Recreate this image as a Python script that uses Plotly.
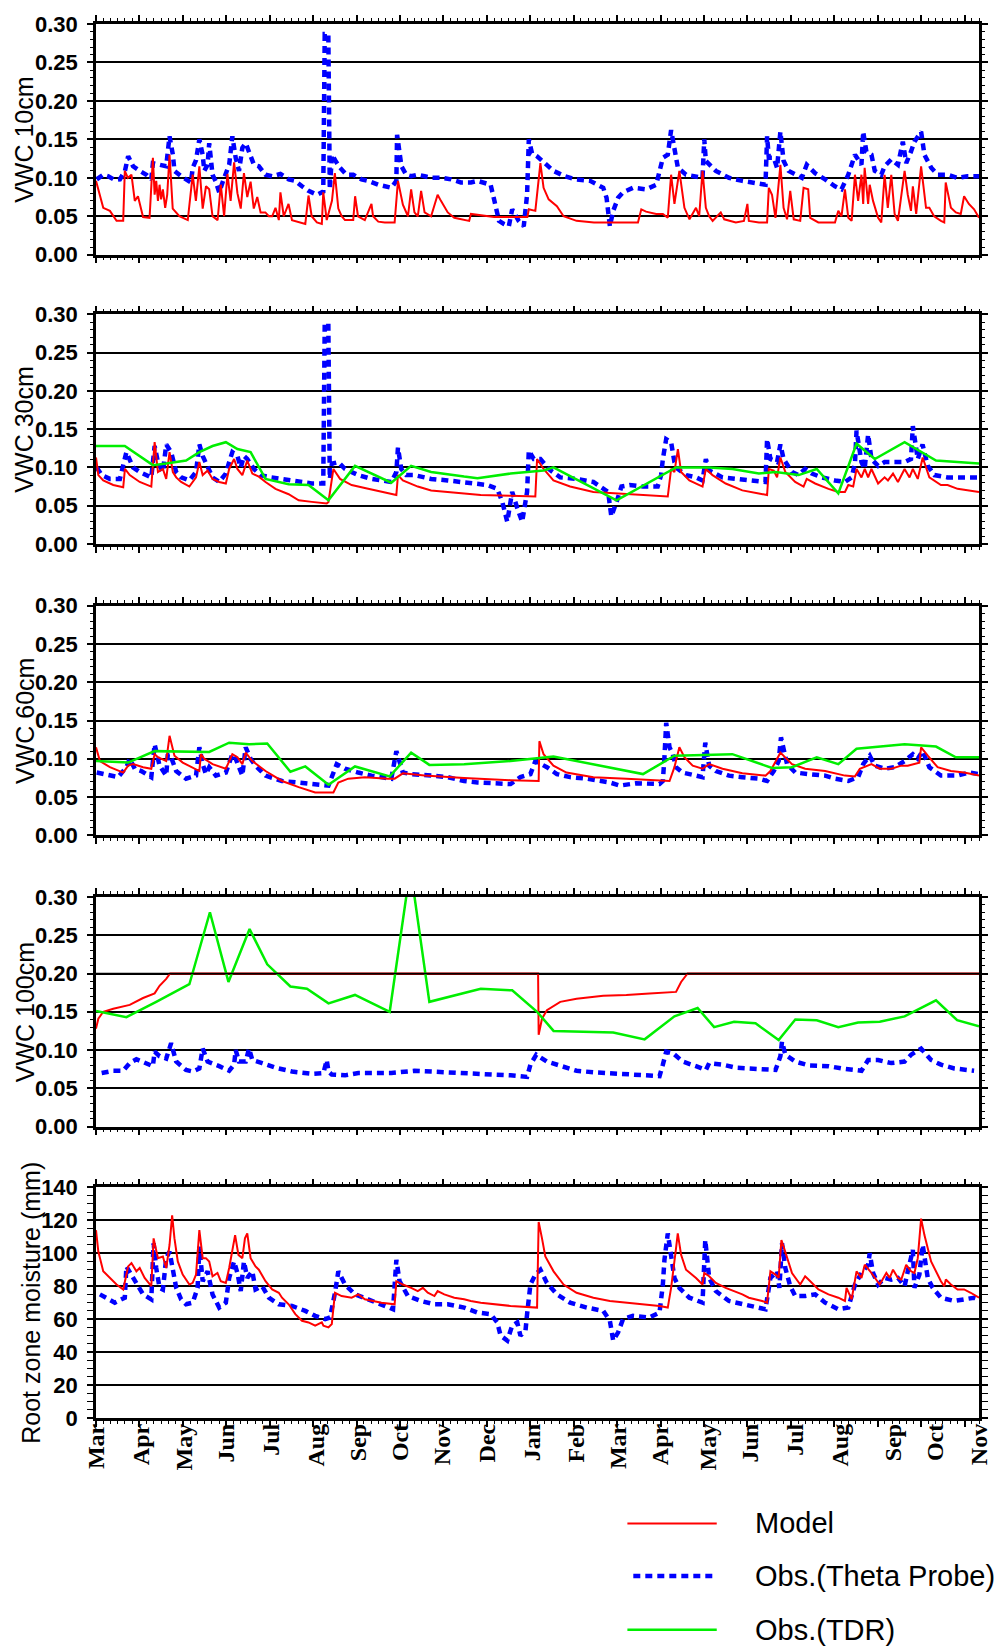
import plotly.graph_objects as go

# Days counted from 1 March of the first year; the axis runs to 1 November of the next year.
X_RANGE = [0, 610]
MONTH_NAMES = ["Mar", "Apr", "May", "Jun", "Jul", "Aug", "Sep", "Oct", "Nov", "Dec",
               "Jan", "Feb", "Mar", "Apr", "May", "Jun", "Jul", "Aug", "Sep", "Oct", "Nov"]
MONTH_DAYS = [0, 31, 61, 90, 121, 152, 181, 210, 239, 270,
              301, 332, 361, 390, 423, 452, 483, 514, 551, 580, 610]

# ---------------- 10 cm (day, volumetric water content) ----------------
MODEL_10CM = [(0, 0.096), (5, 0.061), (9.6, 0.057), (14.2, 0.044), (18.8, 0.044), (19.9, 0.109), (22, 0.100),
              (24.5, 0.104), (26.8, 0.070), (29, 0.076), (32.5, 0.049), (37, 0.048), (39.3, 0.126), (40.5, 0.078),
              (41.6, 0.096), (42.8, 0.070), (43.9, 0.091), (45, 0.072), (46.2, 0.085), (47.8, 0.061), (49.2, 0.078),
              (50.8, 0.130), (53, 0.060), (57.6, 0.050), (63.4, 0.045), (66.8, 0.104), (69, 0.070), (71.4, 0.115),
              (73.7, 0.060), (76, 0.089), (78.2, 0.085), (80.5, 0.050), (84, 0.045), (86.2, 0.091), (88.5, 0.050),
              (90.8, 0.105), (93, 0.070), (95.4, 0.120), (97.7, 0.080), (100, 0.060), (102.2, 0.106), (104.5, 0.075),
              (106.8, 0.095), (109, 0.060), (111.4, 0.075), (113.7, 0.055), (117, 0.055), (119.4, 0.050),
              (121.7, 0.050), (124, 0.061), (126.3, 0.045), (127.4, 0.081), (129.7, 0.050), (133, 0.066),
              (135.4, 0.045), (140, 0.042), (144.6, 0.040), (146.8, 0.077), (149, 0.050), (152.6, 0.042),
              (156, 0.040), (157, 0.081), (159.4, 0.045), (163, 0.070), (165, 0.106), (167.4, 0.060), (169.7, 0.050),
              (172, 0.045), (177.7, 0.045), (179, 0.076), (181, 0.050), (185.7, 0.045), (190.3, 0.066),
              (191.4, 0.050), (195, 0.043), (199.5, 0.042), (206.3, 0.042), (208.6, 0.096), (212, 0.065),
              (215.5, 0.050), (217.7, 0.085), (220, 0.055), (222.3, 0.050), (224.6, 0.083), (227, 0.055),
              (231.5, 0.050), (236, 0.078), (238.3, 0.070), (243, 0.055), (247.5, 0.048), (254.3, 0.045),
              (257.8, 0.044), (259, 0.053), (263.5, 0.052), (275, 0.049), (298, 0.049), (299, 0.059),
              (303.5, 0.057), (307, 0.119), (309.2, 0.087), (312.7, 0.072), (318.4, 0.063), (323, 0.050),
              (332, 0.044), (344, 0.042), (374.4, 0.042), (376.7, 0.059), (380, 0.056), (387, 0.053),
              (391.6, 0.053), (395, 0.048), (397.3, 0.104), (399.6, 0.066), (403, 0.109), (406.5, 0.061),
              (410, 0.046), (414.5, 0.061), (416.7, 0.050), (419, 0.109), (421.3, 0.061), (423.6, 0.050),
              (426, 0.044), (431.6, 0.055), (434, 0.046), (442, 0.042), (447.6, 0.044), (450, 0.066), (451, 0.044),
              (458, 0.042), (463.6, 0.042), (464.8, 0.087), (467, 0.078), (469.4, 0.048), (472.8, 0.117),
              (475, 0.061), (477.4, 0.046), (479.6, 0.083), (482, 0.046), (486.5, 0.044), (488.8, 0.087),
              (492, 0.085), (493.4, 0.048), (499, 0.042), (510.5, 0.042), (512.8, 0.057), (515, 0.050),
              (517.4, 0.085), (519.7, 0.048), (522, 0.044), (524.3, 0.104), (526.5, 0.070), (528.8, 0.104),
              (530, 0.066), (531, 0.113), (533.4, 0.066), (534.5, 0.091), (536.8, 0.070), (540.3, 0.048),
              (542.5, 0.042), (544.8, 0.104), (547, 0.061), (549.4, 0.104), (551.7, 0.053), (554, 0.044),
              (558.6, 0.109), (560.8, 0.078), (563, 0.057), (564.3, 0.089), (566.6, 0.053), (570, 0.115),
              (573.4, 0.061), (575.7, 0.061), (579, 0.050), (583.7, 0.044), (586, 0.042), (587, 0.094),
              (590.6, 0.061), (594, 0.055), (597.4, 0.053), (599.7, 0.076), (603, 0.066), (606.6, 0.059),
              (610, 0.048)]

THETA_10CM = [(0.5, 0.098), (5, 0.104), (8.5, 0.102), (13, 0.097), (16.5, 0.098), (20, 0.109), (22.2, 0.128),
              (25.6, 0.115), (30.2, 0.109), (34.8, 0.104), (38.2, 0.098), (39.3, 0.119), (43.9, 0.117),
              (48.5, 0.115), (49.6, 0.134), (50.8, 0.154), (53.1, 0.130), (54.2, 0.109), (58.8, 0.102),
              (62.2, 0.098), (65.6, 0.094), (66.8, 0.113), (69.1, 0.123), (71.4, 0.150), (73.7, 0.130),
              (74.8, 0.109), (77.1, 0.117), (78.2, 0.145), (80.5, 0.104), (82.8, 0.095), (85.1, 0.081),
              (87.4, 0.094), (89.7, 0.106), (92, 0.117), (94.2, 0.154), (96.5, 0.126), (98.8, 0.109),
              (101.1, 0.139), (103.4, 0.145), (106.8, 0.130), (109.1, 0.117), (112.5, 0.115), (117.1, 0.104),
              (121.7, 0.102), (127.4, 0.105), (133.1, 0.098), (137.7, 0.096), (142.3, 0.089), (146.8, 0.083),
              (152.6, 0.078), (157, 0.082), (158, 0.287), (160.5, 0.287), (161.5, 0.085), (163, 0.130),
              (165.5, 0.122), (168.6, 0.113), (173, 0.104), (177.7, 0.104), (183.4, 0.098), (188, 0.096),
              (195, 0.091), (204, 0.087), (207.5, 0.096), (208, 0.156), (211, 0.115), (214.3, 0.104),
              (217.7, 0.102), (222.3, 0.104), (227, 0.102), (231.5, 0.100), (238.3, 0.100), (245.2, 0.098),
              (252, 0.094), (259, 0.094), (263.5, 0.096), (272.6, 0.091), (275, 0.072), (278.4, 0.044),
              (281.8, 0.040), (285.2, 0.037), (287.5, 0.059), (289.8, 0.050), (292, 0.044), (295.5, 0.037),
              (297.8, 0.078), (299, 0.150), (301.2, 0.132), (304.7, 0.128), (308, 0.122), (316, 0.109),
              (324, 0.102), (331, 0.098), (341.3, 0.096), (350.4, 0.087), (352.7, 0.074), (355, 0.037),
              (357.3, 0.057), (360.7, 0.074), (364, 0.081), (371, 0.087), (380, 0.085), (387, 0.091),
              (391.6, 0.126), (395, 0.130), (397.3, 0.162), (399.6, 0.139), (402, 0.113), (407.6, 0.104),
              (414.5, 0.102), (419, 0.100), (420.2, 0.150), (421.3, 0.122), (428.2, 0.109), (437.3, 0.100),
              (446.5, 0.096), (453.3, 0.094), (462.5, 0.091), (463.6, 0.154), (464.8, 0.126), (468.2, 0.126),
              (470.5, 0.113), (472.8, 0.160), (475, 0.122), (478.5, 0.109), (487.6, 0.100), (491, 0.117),
              (496.8, 0.106), (503.7, 0.098), (510.5, 0.089), (515, 0.085), (519.7, 0.104), (524.3, 0.130),
              (528.8, 0.117), (530, 0.160), (532.2, 0.134), (535.7, 0.130), (538, 0.109), (542.5, 0.104),
              (544.8, 0.115), (549.4, 0.124), (554, 0.117), (557.4, 0.147), (559.7, 0.119), (563, 0.134),
              (565.4, 0.147), (570, 0.160), (572.3, 0.130), (577, 0.113), (581.4, 0.104), (588.3, 0.104),
              (595, 0.100), (602, 0.102), (610, 0.102)]

# ---------------- 30 cm ----------------
MODEL_30CM = [(0, 0.113), (1.6, 0.090), (5, 0.083), (11.9, 0.077), (18.8, 0.074), (20, 0.098), (23.3, 0.090),
              (30.2, 0.081), (38.2, 0.075), (39.3, 0.107), (40.5, 0.133), (42.8, 0.094), (46.2, 0.098),
              (48.5, 0.085), (50.8, 0.120), (53.1, 0.094), (55.4, 0.087), (58.8, 0.081), (64.5, 0.075),
              (69.1, 0.087), (71.4, 0.107), (73.7, 0.090), (77.1, 0.096), (80.5, 0.085), (85.1, 0.081),
              (89.7, 0.079), (92, 0.098), (95.4, 0.111), (97.7, 0.098), (101.1, 0.090), (104.5, 0.109),
              (108, 0.092), (112.5, 0.088), (117.1, 0.081), (124, 0.072), (133.1, 0.065), (140, 0.057),
              (149.1, 0.055), (159.4, 0.053), (160.6, 0.055), (164, 0.098), (168.6, 0.085), (176.6, 0.077),
              (185.7, 0.073), (197.2, 0.068), (207.5, 0.064), (208.6, 0.090), (212, 0.083), (222.3, 0.075),
              (231.5, 0.070), (242.9, 0.068), (254.3, 0.066), (265.8, 0.064), (286.4, 0.063), (303.5, 0.062),
              (304.7, 0.111), (309.2, 0.098), (316, 0.083), (327.5, 0.075), (343.6, 0.068), (359.6, 0.066),
              (377.9, 0.064), (395, 0.062), (397.3, 0.098), (399.6, 0.094), (402, 0.124), (404.2, 0.094),
              (409.9, 0.083), (419, 0.075), (421.3, 0.098), (425.9, 0.090), (435, 0.079), (446.5, 0.070),
              (457.9, 0.066), (463.6, 0.064), (464.8, 0.098), (468.2, 0.096), (470.5, 0.087), (472.8, 0.113),
              (476.2, 0.094), (483, 0.081), (488.8, 0.075), (491, 0.085), (496.8, 0.079), (506, 0.072),
              (512.8, 0.068), (517.4, 0.068), (519.7, 0.077), (523.1, 0.075), (525.4, 0.098), (528.8, 0.087),
              (531.1, 0.098), (533.4, 0.087), (535.7, 0.098), (540.3, 0.079), (544.8, 0.087), (547.1, 0.083),
              (550.6, 0.092), (554, 0.081), (558.6, 0.098), (562, 0.087), (564.3, 0.098), (567.7, 0.085),
              (571.1, 0.113), (575.7, 0.087), (583.7, 0.077), (588.3, 0.077), (595.2, 0.072), (610, 0.068)]

THETA_30CM = [(0.5, 0.100), (3.9, 0.090), (9.6, 0.085), (16.5, 0.085), (21, 0.120), (25.6, 0.100), (30.2, 0.094),
              (34.8, 0.090), (38.2, 0.087), (40.5, 0.128), (42.8, 0.107), (46.2, 0.094), (48.5, 0.130),
              (51.9, 0.120), (55.4, 0.094), (58.8, 0.087), (64.5, 0.083), (69.1, 0.094), (71.4, 0.130),
              (73.7, 0.115), (77.1, 0.100), (80.5, 0.087), (85.1, 0.081), (89.7, 0.092), (92, 0.107),
              (94.2, 0.120), (97.7, 0.115), (100, 0.100), (102.2, 0.115), (104.5, 0.111), (109.1, 0.098),
              (113.7, 0.090), (120.5, 0.087), (128.5, 0.085), (135.4, 0.083), (141.1, 0.081), (149.1, 0.079),
              (157, 0.079), (158, 0.288), (160.5, 0.288), (161.5, 0.085), (163, 0.105), (167.4, 0.107),
              (172, 0.098), (181.2, 0.090), (190.3, 0.085), (197.2, 0.083), (204, 0.081), (207.5, 0.094),
              (208.6, 0.126), (210.9, 0.098), (214.3, 0.090), (220, 0.090), (231.5, 0.085), (242.9, 0.083),
              (254.3, 0.081), (263.5, 0.079), (270.4, 0.077), (277.2, 0.072), (280.7, 0.055), (284.1, 0.029),
              (287.5, 0.068), (291, 0.047), (294.4, 0.029), (297.8, 0.068), (299, 0.122), (302.4, 0.111),
              (307, 0.111), (312.7, 0.098), (320.7, 0.087), (332, 0.085), (343.6, 0.081), (353.8, 0.068),
              (356, 0.036), (359.6, 0.055), (363, 0.075), (368.7, 0.077), (377.9, 0.075), (388, 0.075),
              (390.4, 0.090), (391.6, 0.111), (393.9, 0.137), (397.3, 0.133), (399.6, 0.107), (402, 0.098),
              (407.6, 0.090), (414.5, 0.087), (419, 0.083), (421.3, 0.111), (423.6, 0.096), (432.8, 0.087),
              (444.2, 0.085), (455.6, 0.083), (462.5, 0.081), (463.6, 0.137), (465.9, 0.111), (470.5, 0.107),
              (472.8, 0.130), (475, 0.111), (480.8, 0.094), (485.4, 0.090), (489.9, 0.098), (494.5, 0.092),
              (501.4, 0.087), (510.5, 0.083), (517.4, 0.081), (522, 0.087), (524.3, 0.105), (525.4, 0.148),
              (528.8, 0.107), (531, 0.098), (533.4, 0.143), (535.7, 0.111), (540.3, 0.102), (544.8, 0.107),
              (551.7, 0.107), (558.6, 0.107), (563, 0.111), (564.3, 0.154), (567.7, 0.111), (571, 0.130),
              (574.6, 0.102), (579.2, 0.090), (588.3, 0.087), (597.4, 0.087), (610, 0.087)]

TDR_30CM = [(0, 0.128), (19.9, 0.128), (39.3, 0.103), (48.5, 0.105), (62.2, 0.109), (71.4, 0.120), (80.5, 0.128),
            (89.7, 0.133), (97.7, 0.124), (106.8, 0.120), (117.1, 0.085), (133.1, 0.078), (146.8, 0.077),
            (160.6, 0.057), (178.9, 0.102), (204, 0.080), (217.7, 0.102), (231.5, 0.094), (254.3, 0.088),
            (263.5, 0.086), (286.4, 0.092), (309.2, 0.096), (316, 0.100), (359.6, 0.057), (400.7, 0.100),
            (423.6, 0.100), (439.6, 0.098), (457.9, 0.092), (469.4, 0.094), (485.4, 0.090), (497.9, 0.098),
            (512.8, 0.066), (525.4, 0.131), (538, 0.111), (558.6, 0.133), (580.3, 0.109), (610, 0.105)]

# ---------------- 60 cm ----------------
MODEL_60CM = [(0, 0.115), (2.7, 0.097), (9.6, 0.089), (18.8, 0.082), (22.2, 0.091), (25.6, 0.093), (32.5, 0.089),
              (38.2, 0.087), (40.5, 0.106), (42.8, 0.102), (48.5, 0.097), (50.8, 0.130), (54.2, 0.104),
              (59.9, 0.095), (71.4, 0.084), (72.5, 0.106), (74.8, 0.100), (80.5, 0.093), (89.7, 0.087),
              (94.2, 0.106), (97.7, 0.102), (101.1, 0.093), (103.4, 0.108), (108, 0.097), (117.1, 0.084),
              (128.5, 0.071), (140, 0.063), (151.4, 0.056), (164, 0.056), (167.4, 0.069), (174.3, 0.074),
              (185.7, 0.076), (201.7, 0.074), (206.3, 0.074), (212, 0.081), (226.9, 0.078), (254.3, 0.075),
              (263.5, 0.074), (286.4, 0.072), (305.8, 0.071), (306.3, 0.123), (309.2, 0.106), (316, 0.091),
              (325, 0.082), (343.6, 0.076), (366.4, 0.074), (389.3, 0.071), (396.2, 0.071), (399.6, 0.089),
              (403, 0.115), (406.5, 0.102), (412.2, 0.091), (419, 0.087), (423.6, 0.093), (432.8, 0.087),
              (446.5, 0.081), (462.5, 0.078), (465.9, 0.084), (472.8, 0.108), (475, 0.104), (480.8, 0.093),
              (489.9, 0.087), (503.7, 0.084), (517.4, 0.078), (524.3, 0.077), (527.7, 0.087), (535.7, 0.093),
              (541.4, 0.087), (549.4, 0.087), (556.3, 0.091), (560.8, 0.091), (568.8, 0.095), (570, 0.115),
              (574.6, 0.104), (581.4, 0.089), (590.6, 0.084), (599.7, 0.082), (610, 0.078)]

THETA_60CM = [(0.5, 0.082), (5, 0.080), (15.3, 0.076), (21, 0.089), (23.3, 0.100), (26.8, 0.087), (31.3, 0.084),
              (38.2, 0.076), (40.5, 0.119), (43.9, 0.091), (48.5, 0.078), (49.6, 0.106), (51.9, 0.102),
              (55.4, 0.084), (62.2, 0.074), (69.1, 0.078), (71.4, 0.115), (73.7, 0.093), (75.9, 0.080),
              (78.2, 0.089), (82.8, 0.078), (89.7, 0.082), (94.2, 0.106), (96.5, 0.100), (101.1, 0.078),
              (103.4, 0.115), (106.8, 0.100), (110.2, 0.091), (117.1, 0.078), (128.5, 0.071), (140, 0.069),
              (151.4, 0.067), (160.6, 0.065), (166.3, 0.093), (172, 0.087), (181.2, 0.082), (190.3, 0.078),
              (204, 0.074), (207.5, 0.110), (212, 0.082), (217.7, 0.080), (231.5, 0.078), (242.9, 0.076),
              (254.3, 0.071), (263.5, 0.069), (274.9, 0.068), (286.4, 0.067), (293.2, 0.076), (300.1, 0.080),
              (303.5, 0.097), (308.1, 0.093), (311.5, 0.089), (318.4, 0.080), (327.5, 0.076), (339, 0.074),
              (355, 0.069), (361.9, 0.065), (373, 0.068), (389.3, 0.067), (391.6, 0.071), (392.7, 0.102),
              (393.9, 0.147), (396.2, 0.115), (398.5, 0.106), (400.7, 0.089), (405.3, 0.082), (414.5, 0.078),
              (419, 0.076), (420.9, 0.121), (423.6, 0.091), (428.2, 0.084), (437.3, 0.078), (446.5, 0.076),
              (457.9, 0.074), (463.6, 0.071), (468.2, 0.084), (471.6, 0.097), (473.2, 0.128), (477.4, 0.093),
              (483.1, 0.082), (492.2, 0.080), (503.7, 0.078), (510.5, 0.074), (519.7, 0.071), (526.5, 0.076),
              (530, 0.093), (534.5, 0.104), (538, 0.091), (544.8, 0.087), (551.7, 0.089), (558.6, 0.097),
              (564.3, 0.106), (567.7, 0.100), (571.1, 0.110), (575.7, 0.089), (583.7, 0.078), (595.2, 0.078),
              (603.2, 0.082), (610, 0.080)]

TDR_60CM = [(0, 0.097), (22.2, 0.095), (40.5, 0.110), (59.9, 0.109), (78.2, 0.109), (92, 0.121), (105.7, 0.119),
            (118.3, 0.120), (134.3, 0.083), (144.6, 0.090), (160.6, 0.066), (178.9, 0.090), (202.9, 0.077),
            (217.7, 0.108), (230.3, 0.092), (254.3, 0.093), (263.5, 0.094), (286.4, 0.097), (316, 0.103),
            (377.9, 0.080), (399.6, 0.104), (439.6, 0.106), (467, 0.088), (480.8, 0.089), (497.9, 0.102),
            (512.8, 0.093), (525.4, 0.113), (558.6, 0.119), (580.3, 0.116), (594, 0.102), (610, 0.102)]

# ---------------- 100 cm ----------------
MODEL_100CM = [(0, 0.128), (1.6, 0.141), (5, 0.150), (11.9, 0.154), (23.3, 0.159), (32.5, 0.168), (40.5, 0.174),
               (43.9, 0.184), (48.5, 0.193), (51.2, 0.200), (305.4, 0.200), (305.8, 0.120), (308.1, 0.141),
               (311.5, 0.152), (320.7, 0.163), (332, 0.167), (350.4, 0.171), (366.4, 0.172), (382.4, 0.174),
               (400.7, 0.176), (404.2, 0.189), (408.7, 0.200), (610, 0.200)]

THETA_100CM = [(3.9, 0.070), (11.9, 0.073), (18.8, 0.073), (23.3, 0.083), (27.9, 0.088), (34.8, 0.082),
               (39.3, 0.079), (40.5, 0.098), (43.9, 0.092), (48.5, 0.089), (51.9, 0.109), (55.4, 0.085),
               (62.2, 0.074), (66.8, 0.072), (71.4, 0.076), (73.7, 0.102), (77.1, 0.085), (85.1, 0.079),
               (92, 0.073), (95.4, 0.081), (96.5, 0.100), (98.8, 0.085), (103.4, 0.085), (105.7, 0.102),
               (108, 0.087), (114.8, 0.083), (124, 0.077), (135.4, 0.072), (149.1, 0.069), (157.1, 0.070),
               (159.4, 0.087), (160.6, 0.072), (162.9, 0.068), (172, 0.067), (181.2, 0.070), (204, 0.070),
               (220, 0.073), (231.5, 0.072), (247.5, 0.070), (263.5, 0.069), (274.9, 0.068), (286.4, 0.067),
               (297.8, 0.065), (300.1, 0.081), (304.2, 0.094), (311.5, 0.085), (323, 0.079), (332, 0.073),
               (343.6, 0.071), (359.6, 0.069), (377.9, 0.068), (389.3, 0.066), (391.6, 0.081), (393.9, 0.098),
               (398.5, 0.096), (405.3, 0.085), (414.5, 0.079), (421.3, 0.074), (423.6, 0.083), (432.8, 0.081),
               (441.9, 0.077), (457.9, 0.076), (469.4, 0.074), (472.8, 0.092), (473.9, 0.111), (476.2, 0.094),
               (483.1, 0.085), (492.2, 0.080), (506, 0.079), (515.1, 0.076), (528.8, 0.073), (533.4, 0.087),
               (540.3, 0.087), (549.4, 0.083), (558.6, 0.085), (563.1, 0.094), (570, 0.102), (576.9, 0.087),
               (583.7, 0.081), (592.9, 0.076), (606.6, 0.073)]

TDR_100CM = [(0, 0.151), (21, 0.143), (41.6, 0.163), (64.5, 0.186), (78.7, 0.280), (91.5, 0.189), (106.1, 0.258),
             (118.3, 0.212), (134.3, 0.183), (145.7, 0.180), (160.6, 0.161), (178.9, 0.172), (202.9, 0.150),
             (217.2, 0.338), (230.3, 0.163), (249.8, 0.172), (265.8, 0.180), (287.5, 0.178), (304.7, 0.150),
             (316.1, 0.125), (357.3, 0.123), (379, 0.114), (399.6, 0.144), (415.6, 0.155), (427, 0.130),
             (440.8, 0.137), (455.6, 0.135), (471.6, 0.113), (483.1, 0.140), (497.9, 0.139), (512.8, 0.130),
             (526.5, 0.136), (541.4, 0.137), (558.6, 0.144), (580.3, 0.165), (594.9, 0.139), (610, 0.131)]

# ---------------- root zone storage (mm) ----------------
MODEL_ROOT = [(0, 114), (1.6, 101), (5, 89), (9.6, 85), (14.2, 81), (18.8, 78), (19.9, 83), (22.2, 92), (24.5, 94),
              (27.9, 89), (30.2, 91), (33.6, 85), (38.2, 80), (39.8, 109), (42.8, 97), (46.2, 98), (48.5, 91),
              (50.8, 105), (52.6, 123), (54.2, 109), (56.5, 95), (59.9, 87), (64.5, 81), (66.8, 82), (69.1, 87),
              (71.4, 114), (73.7, 97), (75.9, 97), (78.2, 95), (80.5, 86), (83.9, 88), (86.2, 83), (89.7, 82),
              (92, 91), (96.1, 111), (98.4, 99), (101.1, 97), (102.9, 109), (104.5, 112), (106.8, 97), (110.2, 92),
              (112.5, 90), (117.1, 83), (121.7, 78), (126.3, 76), (128.5, 73), (133.1, 69), (137.7, 63),
              (142.3, 59), (146.8, 58), (151.4, 56), (156, 58), (157.1, 56), (160.6, 55), (162.9, 57), (165.1, 76),
              (169.7, 74), (176.6, 73), (181.2, 75), (185.7, 72), (197.2, 70), (206.3, 69), (207.5, 83), (212, 81),
              (217.7, 79), (222.3, 77), (225.8, 79), (229.2, 76), (233.8, 74), (236, 77), (240.6, 75), (247.5, 73),
              (254.3, 72), (258.9, 71), (265.8, 70), (286.4, 68), (304.7, 67), (305.8, 119), (308.1, 109),
              (310.4, 98), (316.1, 89), (323, 81), (332, 76), (343.6, 73), (355, 71), (366.4, 70), (377.9, 69),
              (389.3, 68), (395, 67), (397.3, 79), (400.7, 103), (401.9, 112), (404.2, 99), (407.6, 90),
              (414.5, 85), (419, 81), (420.2, 88), (423.6, 86), (428.2, 82), (435, 79), (446.5, 75), (448.8, 74),
              (451, 73), (460.2, 71), (463.6, 70), (465.9, 89), (469.4, 87), (471.6, 85), (473.5, 108), (475, 104),
              (477.4, 97), (480.8, 88), (486.5, 81), (489.9, 86), (492.2, 84), (499.1, 78), (506, 75), (512.8, 73),
              (517.4, 71), (518.5, 79), (522, 72), (525.4, 89), (528.8, 85), (531.1, 93), (535.7, 88), (538, 85),
              (541.4, 81), (546, 88), (548.3, 85), (550.6, 90), (554, 85), (556.3, 84), (559.7, 93), (563.1, 89),
              (565.4, 88), (567.7, 97), (570, 121), (572.3, 111), (576.9, 95), (583.7, 83), (586, 80), (587.1, 84),
              (590.6, 81), (595.2, 78), (599.7, 78), (604.3, 76), (610, 73)]

THETA_ROOT = [(2.7, 75), (7.3, 73), (13, 70), (17.6, 72), (19.9, 73), (21, 92), (24.5, 87), (27.9, 81), (32.5, 75),
              (38.2, 72), (39.8, 106), (41.6, 91), (43.9, 79), (46.2, 78), (48.5, 97), (50.8, 101), (53.1, 91),
              (55.4, 79), (58.8, 72), (62.2, 69), (66.8, 70), (70.2, 79), (71.4, 104), (73.7, 83), (77.1, 89),
              (80.5, 75), (85.1, 67), (89.7, 70), (92, 85), (95.4, 95), (97.7, 88), (100, 77), (102.2, 95),
              (104.5, 85), (108, 89), (110.2, 78), (114.8, 80), (119.4, 73), (126.3, 69), (135.4, 68), (144.6, 65),
              (151.4, 62), (158.3, 60), (161.7, 61), (165.1, 76), (167.4, 89), (172, 81), (178.9, 75), (188, 72),
              (197.2, 69), (205.2, 66), (207.5, 96), (209.7, 83), (215.5, 74), (224.6, 71), (233.8, 69),
              (242.9, 69), (254.3, 67), (263.5, 64), (272.6, 63), (277.2, 58), (279.5, 50), (284.1, 47),
              (287.5, 56), (291, 58), (293.2, 50), (296.7, 53), (297.8, 63), (300.1, 81), (303.5, 87), (307, 90),
              (311.5, 82), (318.4, 75), (327.5, 70), (339, 67), (350.4, 65), (355, 59), (357.3, 47), (360.7, 52),
              (364.1, 60), (371, 62), (382.4, 61), (389.3, 64), (391.6, 81), (392.7, 96), (395, 112), (397.3, 99),
              (399.6, 85), (403, 79), (409.9, 73), (419, 70), (420.9, 108), (423.6, 85), (428.2, 77), (437.3, 71),
              (446.5, 69), (455.6, 67), (462.5, 66), (465.9, 85), (470.5, 89), (472.1, 79), (473.9, 106),
              (476.2, 91), (479.6, 80), (483.1, 74), (489.9, 74), (496.8, 75), (503.7, 70), (512.8, 66),
              (519.7, 67), (524.3, 81), (528.8, 88), (533.4, 93), (534.5, 100), (536.8, 88), (540.3, 81),
              (544.8, 85), (549.4, 84), (554, 85), (558.6, 80), (560.8, 89), (564.3, 102), (565.4, 79),
              (568.8, 87), (571.1, 105), (574.6, 85), (578, 79), (583.7, 73), (592.9, 71), (599.7, 72),
              (606.6, 73), (610, 72)]

PANEL_TITLES = ["VWC 10cm", "VWC 30cm", "VWC 60cm", "VWC 100cm", "Root zone moisture (mm)"]
VWC_TICKS = [0.0, 0.05, 0.10, 0.15, 0.20, 0.25, 0.30]
ROOT_TICKS = [0, 20, 40, 60, 80, 100, 120, 140]
LEGEND_NAMES = ["Model", "Obs.(Theta Probe)", "Obs.(TDR)"]

# ---------------- styling ----------------
RED, BLUE, GREEN = "#ff0000", "#0000ff", "#00ee00"
SANS = "Liberation Sans"
SERIF = "Liberation Serif"
STYLE = {
    "Model": dict(color=RED, width=2),
    "Obs.(Theta Probe)": dict(color=BLUE, width=4.5, dash="7px,5px"),
    "Obs.(TDR)": dict(color=GREEN, width=2.5),
}
# vertical extent of each panel (paper fraction), top panel first
DOMAINS = [(0.8345, 1.0), (0.627, 0.7917), (0.418, 0.5827), (0.209, 0.3738), (0.0, 0.1655)]

panels = [
    (MODEL_10CM, THETA_10CM, None),
    (MODEL_30CM, THETA_30CM, TDR_30CM),
    (MODEL_60CM, THETA_60CM, TDR_60CM),
    (MODEL_100CM, THETA_100CM, TDR_100CM),
    (MODEL_ROOT, THETA_ROOT, None),
]

fig = go.Figure()


def axis_id(prefix, i):
    return prefix if i == 1 else f"{prefix}{i}"


for i, (model, theta, tdr) in enumerate(panels, start=1):
    xa, ya = axis_id("x", i), axis_id("y", i)
    for name, series in (("Obs.(Theta Probe)", theta), ("Model", model), ("Obs.(TDR)", tdr)):
        if series is None:
            continue
        days, vals = zip(*series)
        fig.add_trace(go.Scatter(x=days, y=vals, mode="lines", name=name, line=STYLE[name],
                                 xaxis=xa, yaxis=ya, showlegend=False, hoverinfo="skip"))

x_common = dict(range=X_RANGE, showgrid=False, zeroline=False, showline=True, linewidth=2.5,
                linecolor="black", mirror="allticks", ticks="outside", ticklen=6, tickwidth=1.5,
                tickcolor="black", tick0=0, dtick=30, showticklabels=False,
                minor=dict(ticks="outside", ticklen=3, tickwidth=1, tickcolor="black",
                           tick0=0, dtick=5, showgrid=False))

layout = {}
for i in range(1, 6):
    xa, ya = axis_id("x", i), axis_id("y", i)
    layout[axis_id("xaxis", i)] = dict(domain=[0, 1], anchor=ya, **x_common)
    if i < 5:
        yr, tv, fmt, mdt = [0, 0.30], VWC_TICKS, ".2f", 0.01
    else:
        yr, tv, fmt, mdt = [0, 140], ROOT_TICKS, "d", 5
    layout[axis_id("yaxis", i)] = dict(
        domain=list(DOMAINS[i - 1]), anchor=xa, range=yr, tickmode="array", tickvals=tv,
        tickformat=fmt, showgrid=True, gridcolor="black", gridwidth=1.5, zeroline=False,
        showline=True, linewidth=2.5, linecolor="black", mirror="allticks", ticks="outside",
        ticklen=6, tickwidth=1.5, tickcolor="black", ticklabelstandoff=5,
        tickfont=dict(family=SANS, size=22, color="black", weight="bold"),
        minor=dict(ticks="outside", ticklen=3, tickwidth=1, tickcolor="black",
                   tickmode="linear", tick0=0, dtick=mdt, showgrid=False),
    )

# month names under the bottom panel
layout["xaxis6"] = dict(overlaying="x5", anchor="y5", side="bottom", range=X_RANGE, showline=False,
                        showgrid=False, zeroline=False, ticks="", tickmode="array",
                        tickvals=MONTH_DAYS, ticktext=MONTH_NAMES, tickangle=-90,
                        tickfont=dict(family=SERIF, size=24, color="black", weight="bold"))
fig.add_trace(go.Scatter(x=[0], y=[0], xaxis="x6", yaxis="y5", mode="markers",
                         marker=dict(opacity=0), showlegend=False, hoverinfo="skip"))

annotations = []
for i, title in enumerate(PANEL_TITLES):
    lo, hi = DOMAINS[i]
    annotations.append(dict(text=title, xref="paper", yref="paper",
                            x=-0.081 if i < 4 else -0.0735, y=(lo + hi) / 2,
                            xanchor="center", yanchor="middle", textangle=-90, showarrow=False,
                            font=dict(family=SANS, size=25, color="black")))

shapes = []
# the 0.20 grid line of the 100 cm panel sits on top of the saturated model curve
shapes.append(dict(type="line", xref="x4 domain", yref="y4", x0=0, x1=1, y0=0.20, y1=0.20,
                   layer="above", line=dict(color="black", width=1.5)))

# legend block below the panels
legend_rows = [-0.0756, -0.1134, -0.1519]
for name, yrow in zip(LEGEND_NAMES, legend_rows):
    st = STYLE[name]
    x0, x1 = (0.6085, 0.6985) if "dash" in st else (0.6018, 0.703)
    shapes.append(dict(type="line", xref="paper", yref="paper", x0=x0, x1=x1, y0=yrow, y1=yrow,
                       line=dict(color=st["color"], width=st["width"], dash=st.get("dash", "solid"))))
    annotations.append(dict(text=name, xref="paper", yref="paper", x=0.7435, y=yrow,
                            xanchor="left", yanchor="middle", showarrow=False,
                            font=dict(family=SANS, size=29, color="black")))

fig.update_layout(width=1004, height=1650, margin=dict(l=96, r=19, t=16, b=232),
                  paper_bgcolor="white", plot_bgcolor="white", showlegend=False,
                  annotations=annotations, shapes=shapes, **layout)

fig.write_html("out.html")
